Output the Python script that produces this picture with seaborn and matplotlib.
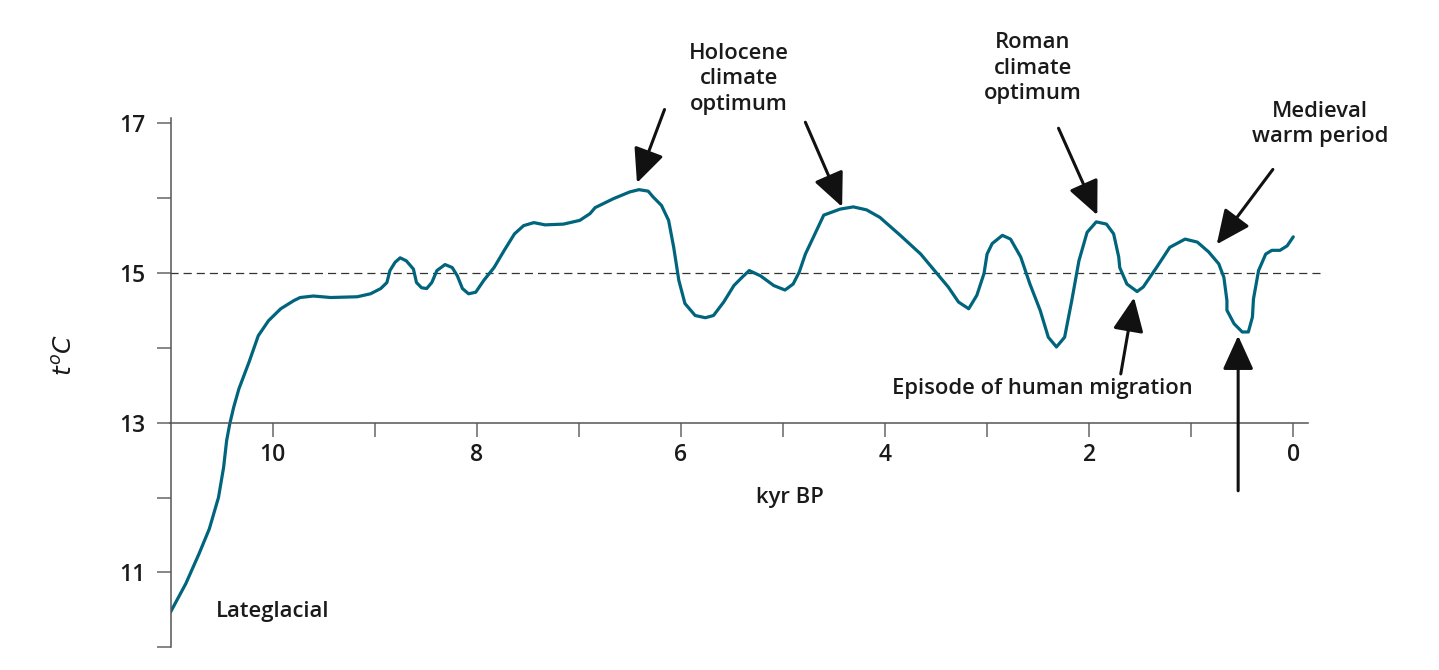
import matplotlib
matplotlib.use("Agg")
import matplotlib.pyplot as plt
import seaborn as sns
import pandas as pd
import numpy as np

# ---- data (kyr BP, temperature °C) ----
kyr = [11.00, 10.85, 10.72, 10.62, 10.53, 10.48, 10.45, 10.42, 10.38, 10.33, 10.23, 10.14,
       10.04, 9.92, 9.79, 9.73, 9.60, 9.43, 9.17, 9.04, 8.94, 8.88, 8.85, 8.80, 8.75, 8.69,
       8.62, 8.59, 8.54, 8.49, 8.44, 8.39, 8.31, 8.24, 8.19, 8.14, 8.08, 8.01, 7.93, 7.83,
       7.73, 7.63, 7.54, 7.44, 7.33, 7.15, 6.99, 6.89, 6.84, 6.66, 6.50, 6.41, 6.32, 6.27,
       6.19, 6.12, 6.07, 6.02, 5.96, 5.86, 5.76, 5.68, 5.58, 5.48, 5.40, 5.33, 5.22, 5.09,
       4.98, 4.90, 4.84, 4.78, 4.70, 4.60, 4.44, 4.31, 4.18, 4.05, 3.85, 3.65, 3.38, 3.28,
       3.18, 3.10, 3.03, 3.00, 2.95, 2.85, 2.77, 2.67, 2.58, 2.48, 2.40, 2.32, 2.24, 2.17,
       2.10, 2.02, 1.93, 1.83, 1.76, 1.71, 1.70, 1.63, 1.53, 1.47, 1.34, 1.21, 1.06, 0.94,
       0.83, 0.73, 0.68, 0.65, 0.65, 0.58, 0.50, 0.44, 0.40, 0.39, 0.34, 0.27, 0.21, 0.13,
       0.06, 0.00]
temp = [10.47, 10.85, 11.25, 11.58, 12.00, 12.40, 12.76, 12.98, 13.21, 13.45, 13.81, 14.16,
        14.36, 14.52, 14.63, 14.67, 14.69, 14.67, 14.68, 14.72, 14.79, 14.87, 15.03, 15.14, 15.20, 15.16,
        15.05, 14.87, 14.80, 14.79, 14.87, 15.03, 15.11, 15.07, 14.96, 14.79, 14.72, 14.74, 14.90, 15.07,
        15.30, 15.52, 15.63, 15.67, 15.64, 15.65, 15.70, 15.79, 15.87, 15.99, 16.08, 16.11, 16.09, 16.01,
        15.90, 15.70, 15.34, 14.90, 14.59, 14.43, 14.40, 14.43, 14.61, 14.83, 14.94, 15.03, 14.96, 14.83,
        14.77, 14.85, 15.01, 15.25, 15.48, 15.77, 15.85, 15.88, 15.84, 15.74, 15.50, 15.25, 14.81, 14.61,
        14.52, 14.70, 14.99, 15.25, 15.39, 15.50, 15.45, 15.21, 14.85, 14.50, 14.14, 14.01, 14.14, 14.63,
        15.16, 15.54, 15.68, 15.65, 15.52, 15.21, 15.07, 14.85, 14.75, 14.81, 15.07, 15.34, 15.45, 15.41,
        15.28, 15.12, 14.94, 14.63, 14.50, 14.32, 14.21, 14.21, 14.41, 14.65, 15.03, 15.25, 15.30, 15.30,
        15.36, 15.48]

x_major = [10, 8, 6, 4, 2, 0]
x_minor = [9, 7, 5, 3, 1]
y_major = [11, 13, 15, 17]
y_minor = [10, 12, 14, 16]
reference_temp = 15

df = pd.DataFrame({"kyr": kyr, "temp": temp})

sns.set_theme(style="white")
FONT = ["Open Sans", "DejaVu Sans"]
plt.rcParams["font.family"] = FONT

fig = plt.figure(figsize=(14.39, 6.70), dpi=100)
ax = fig.add_axes([170.5 / 1439, 1 - 647.3 / 670, 1137.5 / 1439, 529.0 / 670])

line_color = "#00657c"
sns.lineplot(data=df, x="kyr", y="temp", sort=False, ax=ax, color=line_color,
             linewidth=2.3, estimator=None)
ax.lines[0].set_solid_joinstyle("round")

ax.set_xlim(11.0, 11.0 - 1137.5 / 102.07)
ax.set_ylim(10, 10 + 529.0 / 74.9)

# reference dashed line
ax.hlines(reference_temp, 11.0, -0.265, colors="#333333", linestyles=(0, (6.5, 4)),
          linewidth=0.9, clip_on=False, zorder=1)

# spines
for s in ["top", "right"]:
    ax.spines[s].set_visible(False)
ax.spines["bottom"].set_position(("data", 13))
ax.spines["bottom"].set_color("#555555")
ax.spines["left"].set_color("#555555")
ax.spines["bottom"].set_linewidth(1.1)
ax.spines["left"].set_linewidth(1.1)

ax.set_xticks(x_major)
ax.set_xticks(x_minor, minor=True)
ax.set_yticks(y_major)
ax.set_yticks(y_minor, minor=True)
ax.set_xticklabels([str(v) for v in x_major])
ax.set_yticklabels([str(v) for v in y_major])
ax.tick_params(axis="both", which="both", direction="out", length=10, width=1.1,
               color="#666666", labelsize=16.5, labelcolor="#1a1a1a")
ax.tick_params(axis="x", which="both", bottom=True, pad=5)
ax.tick_params(axis="y", which="both", left=True, pad=8)
for lab in ax.get_xticklabels() + ax.get_yticklabels():
    lab.set_fontweight("semibold")
ax.set_xlabel("")
ax.set_ylabel("")
ax.grid(False)

# labels
txt = dict(fontsize=15.8, fontweight="semibold", color="#1a1a1a", ha="center", va="center",
           family=FONT, linespacing=1.28)
ax.text(4.93, 12.0, "kyr BP", **txt)
ax.text(10.0, 10.48, "Lateglacial", **txt)
ax.text(5.43, 17.59, "Holocene\nclimate\noptimum", **txt, clip_on=False)
ax.text(2.55, 17.73, "Roman\nclimate\noptimum", **txt, clip_on=False)
ax.text(-0.265, 16.99, "Medieval\nwarm period", **txt, clip_on=False)
ax.text(2.46, 13.45, "Episode of human migration", **txt)
fig.text(65 / 1439, 1 - 355 / 670, r"$t^oC$", rotation=90, fontsize=18,
         ha="center", va="center", color="#1a1a1a")

# arrows (tail -> tip)
arrows = [((6.16, 17.18), (6.43, 16.20)),
          ((4.78, 17.01), (4.42, 15.88)),
          ((2.30, 16.93), (1.92, 15.77)),
          ((0.20, 16.38), (0.75, 15.38)),
          ((1.69, 13.65), (1.56, 14.67)),
          ((0.54, 12.09), (0.54, 14.16))]
for tail, tip in arrows:
    ax.annotate("", xy=tip, xytext=tail, annotation_clip=False,
                arrowprops=dict(arrowstyle="-|>,head_length=1.1,head_width=0.5",
                                mutation_scale=19, color="#111111", linewidth=2.2,
                                shrinkA=0, shrinkB=0))

fig.savefig("out.png", dpi=100)
